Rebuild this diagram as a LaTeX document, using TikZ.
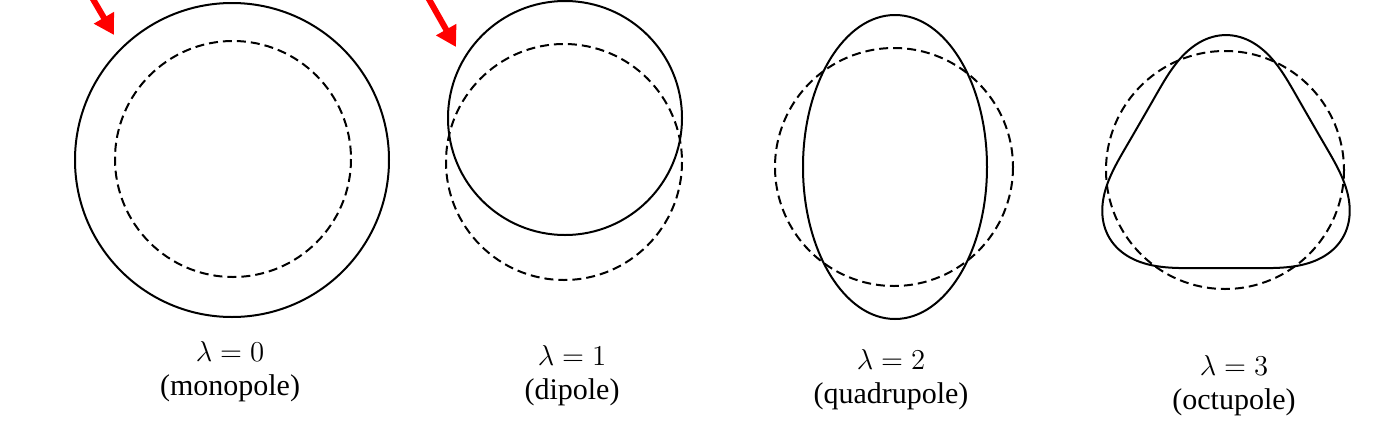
\documentclass[tikz,border=0pt]{standalone}
\usepackage{fontspec}
\setmainfont{Liberation Serif}
\usetikzlibrary{arrows.meta}

\begin{document}
\begin{tikzpicture}[x=0.5pt,y=-0.5pt,outline/.style={line width=1pt},ref/.style={line width=1pt,dash pattern=on 4.5pt off 2.5pt},lbl/.style={align=center,font=\fontsize{15}{17}\selectfont},pointer/.style={-{Triangle[length=10pt,width=11pt]},line width=3pt,draw=red}]
\useasboundingbox (0,0) rectangle (1394,434);
% lambda = 0
\draw[outline] (232,160) circle [radius=157];
\draw[ref] (233,159) circle [radius=118];
\node[lbl] (l0) at (230,372) {$\lambda = 0$\\(monopole)};
% lambda = 1
\draw[outline] (565,118) circle [radius=117];
\draw[ref] (564,162) circle [radius=118];
\node[lbl] (l1) at (572,376) {$\lambda = 1$\\(dipole)};
% lambda = 2
\draw[outline] (895,167) ellipse [x radius=92, y radius=152];
\draw[ref] (894,167) circle [radius=119];
\node[lbl] (l2) at (891,380) {$\lambda = 2$\\(quadrupole)};
% lambda = 3
\draw[outline] plot[domain=0:360,samples=240,smooth cycle] ({1226+114.6*(1+0.161*cos(3*\x)+0.0166*cos(6*\x))*sin(\x)},{170-114.6*(1+0.161*cos(3*\x)+0.0166*cos(6*\x))*cos(\x)});
\draw[ref] (1225,170) circle [radius=119];
\node[lbl] (l3) at (1234,386) {$\lambda = 3$\\(octupole)};
% markers
\coordinate (m0a) at (90,-6);
\coordinate (m0b) at (114,35);
\coordinate (m1a) at (426,-6);
\coordinate (m1b) at (456,47);
\draw[pointer] (m0a) -- (m0b);
\draw[pointer] (m1a) -- (m1b);
\end{tikzpicture}
\end{document}
